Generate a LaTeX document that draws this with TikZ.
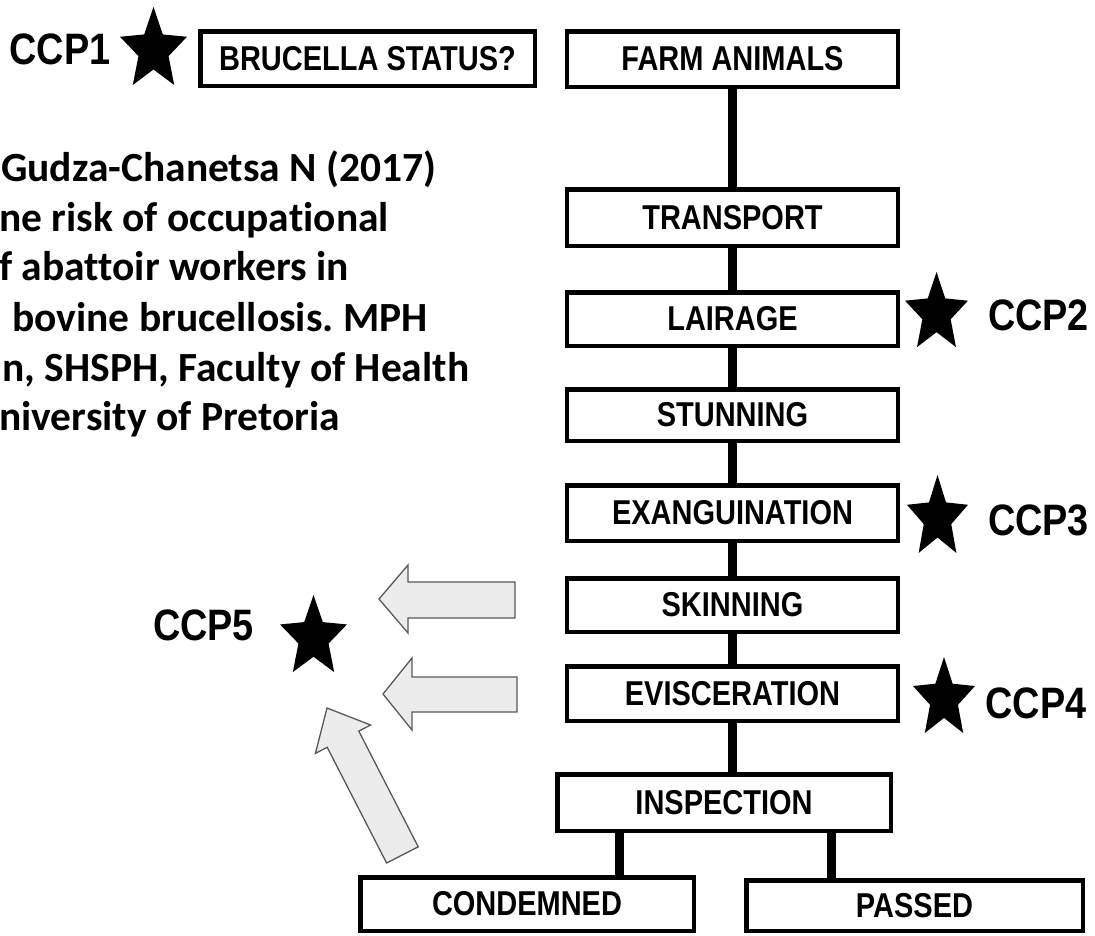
\documentclass[tikz,border=0pt]{standalone}
\usepackage{graphicx}
\usepackage{fontspec}
\setmainfont{Liberation Sans}
\newfontfamily\citefont[Ligatures={NoCommon}]{Carlito}
\newcommand{\sq}[1]{\scalebox{0.84}[1]{#1}}
\newcommand{\sqc}[1]{\scalebox{0.86}[1]{#1}}
\frenchspacing
\tikzset{
  ccpstar/.pic={\fill (90:1) -- (126:0.45) -- (162:1) -- (198:0.45) -- (234:1) -- (270:0.45) -- (306:1) -- (342:0.45) -- (18:1) -- (54:0.45) -- cycle;}
}
\begin{document}
\begin{tikzpicture}[x=1pt,y=-1pt,
  stepbox/.style={draw, line width=4.5pt, fill=white, inner sep=0pt, font=\bfseries\fontsize{34.5}{34.5}\selectfont},
  link/.style={line width=9pt},
  ccp/.style={font=\bfseries\fontsize{44}{44}\selectfont, inner sep=0pt},
  cite/.style={font=\citefont\bfseries\fontsize{41.5}{41.5}\selectfont, anchor=base west, inner sep=0pt},
  blockarrow/.style={draw=gray!70!black, line width=1.3pt, fill=gray!15, line join=miter}
]
\useasboundingbox (0,0) rectangle (1095,935);
\fill[white] (0,0) rectangle (1095,935);

% citation text
\node[cite] (c1) at (1,181) {Gudza-Chanetsa N (2017)};
\node[cite] (c2) at (-1,231) {ne risk of occupational};
\node[cite] (c3) at (-1,280) {f abattoir workers in};
\node[cite] (c4) at (12,331) {bovine brucellosis. MPH};
\node[cite] (c5) at (2,381) {n, SHSPH, Faculty of Health};
\node[cite] (c6) at (-1,430) {niversity of Pretoria};

% boxes
\node[stepbox, minimum width=334.5pt, minimum height=54.5pt] (brucella) at (367.5,58.5) {\sq{BRUCELLA STATUS?}};
\node[stepbox, minimum width=331pt, minimum height=55.5pt] (farm) at (732.5,59) {\sq{FARM ANIMALS}};
\node[stepbox, minimum width=331pt, minimum height=56.5pt] (transport) at (732.5,217.5) {\sq{TRANSPORT}};
\node[stepbox, minimum width=331pt, minimum height=53.5pt] (lairage) at (732.5,319) {\sq{LAIRAGE}};
\node[stepbox, minimum width=331pt, minimum height=51.5pt] (stunning) at (732.5,415) {\sq{STUNNING}};
\node[stepbox, minimum width=331pt, minimum height=55.5pt] (exang) at (732.5,513) {\sq{EXANGUINATION}};
\node[stepbox, minimum width=331pt, minimum height=53.5pt] (skinning) at (732.5,605) {\sq{SKINNING}};
\node[stepbox, minimum width=331pt, minimum height=54.5pt] (evisc) at (732.5,693.5) {\sq{EVISCERATION}};
\node[stepbox, minimum width=333.5pt, minimum height=56.5pt] (insp) at (724,802.5) {\sq{INSPECTION}};
\node[stepbox, minimum width=333.5pt, minimum height=53.5pt] (condemned) at (527,904) {\sq{CONDEMNED}};
\node[stepbox, minimum width=336.5pt, minimum height=50.5pt] (passed) at (914.5,905.5) {\sq{PASSED}};

% connectors
\draw[link] (farm.south) -- (transport.north);
\draw[link] (transport.south) -- (lairage.north);
\draw[link] (lairage.south) -- (stunning.north);
\draw[link] (stunning.south) -- (exang.north);
\draw[link] (exang.south) -- (skinning.north);
\draw[link] (skinning.south) -- (evisc.north);
\draw[link] (evisc.south) -- (evisc.south |- insp.north);
\draw[link] ([xshift=-105pt]insp.south) -- ([xshift=-105pt]insp.south |- condemned.north);
\draw[link] ([xshift=107pt]insp.south) -- ([xshift=107pt]insp.south |- passed.north);

% CCP labels and stars
\node[ccp] (ccp1) at (60,49) {\sqc{CCP1}};
\pic[xscale=35.2, yscale=-43.1] at (153.5,50.1) {ccpstar};
\node[ccp] (ccp2) at (1038.5,315) {\sqc{CCP2}};
\pic[xscale=33.1, yscale=-41.5] at (936.5,313.5) {ccpstar};
\node[ccp] (ccp3) at (1038.5,520) {\sqc{CCP3}};
\pic[xscale=32.1, yscale=-43.1] at (937.5,518.1) {ccpstar};
\node[ccp] (ccp4) at (1036,703) {\sqc{CCP4}};
\pic[xscale=32.6, yscale=-42] at (944,699) {ccpstar};
\node[ccp] (ccp5) at (203.5,625) {\sqc{CCP5}};
\pic[xscale=35.2, yscale=-42.6] at (313.5,637.6) {ccpstar};

% block arrows pointing to CCP5
\draw[blockarrow] (515,582) -- (408,582) -- (408,565) -- (379,599) -- (408,633) -- (408,618) -- (515,618) -- cycle;
\draw[blockarrow] (517,677) -- (412,677) -- (412,658) -- (383,694) -- (412,730) -- (412,712) -- (517,712) -- cycle;
\draw[blockarrow] (327,708) -- (370.6,725) -- (358.8,731.1) -- (418.2,846.8) -- (386.6,863) -- (327.2,747.3) -- (315.4,753.4) -- cycle;
\end{tikzpicture}
\end{document}
